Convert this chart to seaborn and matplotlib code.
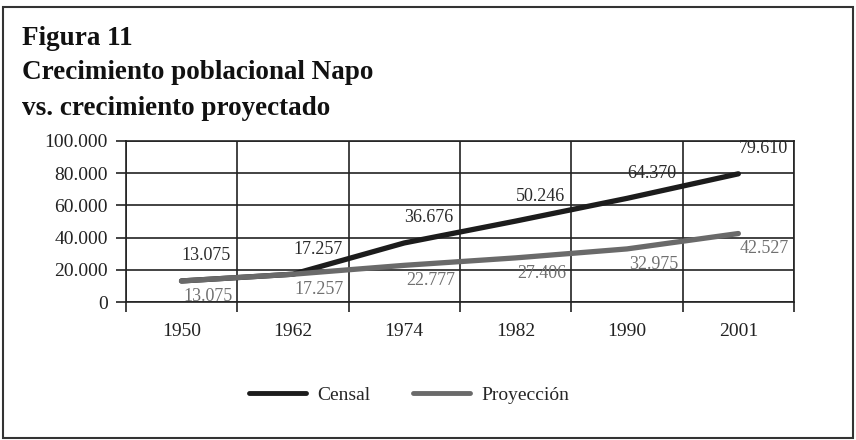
import matplotlib
matplotlib.use("Agg")
import matplotlib.pyplot as plt
import seaborn as sns
import pandas as pd
from matplotlib.ticker import FuncFormatter, FixedLocator
from matplotlib.patches import Rectangle

years = ["1950", "1962", "1974", "1982", "1990", "2001"]
censal = [13075, 17257, 36676, 50246, 64370, 79610]
proyeccion = [13075, 17257, 22777, 27406, 32975, 42527]
series_names = ["Censal", "Proyección"]
y_ticks = [0, 20000, 40000, 60000, 80000, 100000]

df = pd.DataFrame({
    "pos": list(range(len(years))) * 2,
    "valor": censal + proyeccion,
    "serie": [series_names[0]] * len(years) + [series_names[1]] * len(years),
})

sns.set_style("white")
plt.rcParams["font.family"] = ["Liberation Serif", "DejaVu Serif"]

fig = plt.figure(figsize=(8.56, 4.40), dpi=100)
ax = fig.add_axes([0.147, 0.3136, 0.7806, 0.366])

colors = {"Censal": "#1c1c1c", "Proyección": "#6a6a6a"}
sns.lineplot(data=df, x="pos", y="valor", hue="serie", palette=colors,
             linewidth=3.8, ax=ax, legend=True, sort=False)

n = len(years)
ax.set_xlim(-0.5, n - 0.5)
ax.set_ylim(0, 100000)
ax.set_xticks(range(n))
ax.set_xticklabels(years, fontsize=14)
ax.xaxis.set_minor_locator(FixedLocator([i - 0.5 for i in range(n + 1)]))
ax.set_yticks(y_ticks)
ax.yaxis.set_major_formatter(FuncFormatter(lambda v, p: f"{int(v):,}".replace(",", ".")))
ax.tick_params(axis="y", labelsize=14, length=7, width=1.2, color="#222222",
               direction="out", left=True, pad=6, labelcolor="#222222")
ax.tick_params(axis="x", which="major", length=0, pad=15, labelcolor="#222222")
ax.tick_params(axis="x", which="minor", length=7, width=1.2, color="#222222",
               direction="out", bottom=True)
ax.set_xlabel("")
ax.set_ylabel("")
ax.grid(axis="y", which="major", color="#222222", linewidth=1.2)
ax.grid(axis="x", which="minor", color="#222222", linewidth=1.2)
ax.grid(axis="x", which="major", visible=False)
for s in ax.spines.values():
    s.set_visible(True)
    s.set_color("#222222")
    s.set_linewidth(1.2)

# data labels
for i, v in enumerate(censal):
    ax.annotate(f"{v:,}".replace(",", "."), (i, v), xytext=(18, 18),
                textcoords="offset points", ha="center", va="center",
                fontsize=13, color="#2a2a2a")
for i, v in enumerate(proyeccion):
    ax.annotate(f"{v:,}".replace(",", "."), (i, v), xytext=(19, -11),
                textcoords="offset points", ha="center", va="center",
                fontsize=13, color="#707070")

# legend
handles, labels = ax.get_legend_handles_labels()
ax.get_legend().remove()
for h in handles:
    h.set_linewidth(3.5)
fig.legend(handles, labels, loc="center", bbox_to_anchor=(0.478, 0.102),
           ncol=2, frameon=False, fontsize=14, handlelength=2.9,
           columnspacing=2.2, handletextpad=0.6)

# title
title_kw = dict(fontsize=19.5, fontweight="bold", ha="left", va="center",
                color="#111111")
fig.text(0.026, 0.913, "Figura 11", **title_kw)
fig.text(0.026, 0.835, "Crecimiento poblacional Napo", **title_kw)
fig.text(0.026, 0.754, "vs. crecimiento proyectado", **title_kw)

# outer frame
fig.patches.append(Rectangle((0.004, 0.004), 0.992, 0.98, transform=fig.transFigure,
                             fill=False, edgecolor="#333333", linewidth=1.5))

fig.savefig("out.png", dpi=100)
